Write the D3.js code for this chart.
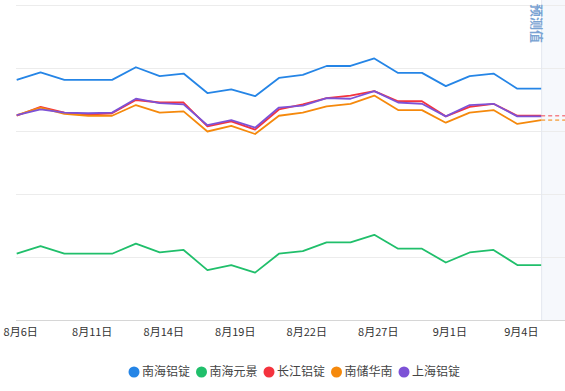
<!DOCTYPE html>
<html>
<head>
<meta charset="utf-8">
<style>
  body { margin: 0; background: #fff; }
  svg { display: block; font-family: "Noto Sans CJK SC", "Noto Sans", sans-serif; }
  .grid line { stroke: #ececec; stroke-width: 1; }
  .xaxis text { font-size: 11px; fill: #333; }
  .legend text { font-size: 12px; fill: #444; }
</style>
</head>
<body>
<script src="https://cdn.jsdelivr.net/npm/d3@7"></script>
<script>
// trading days, last one is the forecast day
const dates = ['8月6日','8月7日','8月8日','8月11日','8月12日','8月13日','8月14日','8月15日',
  '8月18日','8月19日','8月20日','8月21日','8月22日','8月25日','8月26日','8月27日',
  '8月28日','8月29日','9月1日','9月2日','9月3日','9月4日','9月5日','9月8日'];
const tickLabels = ['8月6日','8月11日','8月14日','8月19日','8月22日','8月27日','9月1日','9月4日'];

const names = ['南海铝锭','南海元景','长江铝锭','南储华南','上海铝锭'];
const colors = ['#2585e6','#20bf6b','#f4333e','#f5890c','#7d52d6'];

const nanhai   = [20582,20594,20582,20582,20582,20602,20588,20592,20561,20567,20556,20585,20590,20604,20604,20616,20593,20593,20572,20588,20592,20568,20568];
const yuanjing = [20306,20318,20306,20306,20306,20322,20308,20312,20280,20288,20276,20306,20310,20324,20324,20336,20314,20314,20292,20308,20312,20288,20288];
const changjiang = [20525,20539,20530,20527,20529,20550,20546,20546,20508,20516,20503,20535,20543,20553,20557,20564,20548,20548,20524,20539,20544,20525,20525];
const nanchu   = [20526,20538,20528,20525,20525,20542,20530,20532,20500,20509,20496,20525,20530,20540,20544,20557,20534,20534,20514,20530,20534,20512,20518];
const shanghai = [20526,20535,20530,20529,20530,20552,20545,20543,20510,20518,20506,20538,20541,20553,20552,20564,20546,20544,20524,20542,20544,20524,20524];
// forecast values (only two series have one)
const forecast = { '长江铝锭': 20525, '南储华南': 20518 };

const yTicks = [20200, 20300, 20400, 20500, 20600, 20700];

const series = [nanhai, yuanjing, changjiang, nanchu, shanghai];

const width = 565, height = 391;
const svg = d3.select('body').append('svg')
  .attr('width', width).attr('height', height);

const x = d3.scalePoint().domain(dates).range([16.7, 565]);
const y = d3.scaleLinear().domain([20200, 20700]).range([320.5, 5.5]);

const lastHist = dates[dates.length - 2];

// forecast area
svg.append('rect')
  .attr('x', x(lastHist)).attr('y', 0)
  .attr('width', width - x(lastHist)).attr('height', 320)
  .attr('fill', '#f6f8fc');

// grid
svg.append('g').attr('class', 'grid')
  .selectAll('line').data(yTicks.slice(1)).enter().append('line')
    .attr('x1', 16).attr('x2', width)
    .attr('y1', d => y(d)).attr('y2', d => y(d));

svg.append('line')
  .attr('x1', x(lastHist) + 0.5).attr('x2', x(lastHist) + 0.5)
  .attr('y1', 0).attr('y2', 320)
  .attr('stroke', '#e4e8ef');

// x axis
svg.append('line')
  .attr('x1', 16).attr('x2', width)
  .attr('y1', y(20200)).attr('y2', y(20200))
  .attr('stroke', '#d6d6d6');

svg.append('g').attr('class', 'xaxis')
  .selectAll('text').data(tickLabels).enter().append('text')
    .attr('x', d => x(d) + 4)
    .attr('y', 336)
    .attr('text-anchor', 'middle')
    .text(d => d);

// lines
const line = d3.line()
  .x((d, i) => x(dates[i]))
  .y(d => y(d));

series.forEach((s, k) => {
  svg.append('path')
    .attr('d', line(s))
    .attr('fill', 'none')
    .attr('stroke', colors[k])
    .attr('stroke-width', 1.8)
    .attr('stroke-linejoin', 'round');

  const f = forecast[names[k]];
  if (f !== undefined) {
    svg.append('line')
      .attr('x1', x(lastHist)).attr('y1', y(s[s.length - 1]))
      .attr('x2', x(dates[dates.length - 1])).attr('y2', y(f))
      .attr('stroke', colors[k])
      .attr('stroke-opacity', 0.6)
      .attr('stroke-width', 1.6)
      .attr('stroke-dasharray', '4,3');
  }
});

// forecast label
svg.append('text')
  .attr('transform', `translate(${x(lastHist) - 4},4) rotate(90)`)
  .attr('font-size', 13)
  .attr('font-weight', 'bold')
  .attr('fill', '#7aa3d3')
  .attr('dominant-baseline', 'central')
  .text('预测值');

// legend
const legend = svg.append('g').attr('class', 'legend')
  .selectAll('g').data(names).enter().append('g')
    .attr('transform', (d, i) => `translate(${134 + i * 67.5},372)`);

legend.append('circle').attr('r', 5.5).attr('fill', (d, i) => colors[i]);
legend.append('text')
  .attr('x', 8).attr('dy', '0.35em')
  .text(d => d);
</script>
</body>
</html>
